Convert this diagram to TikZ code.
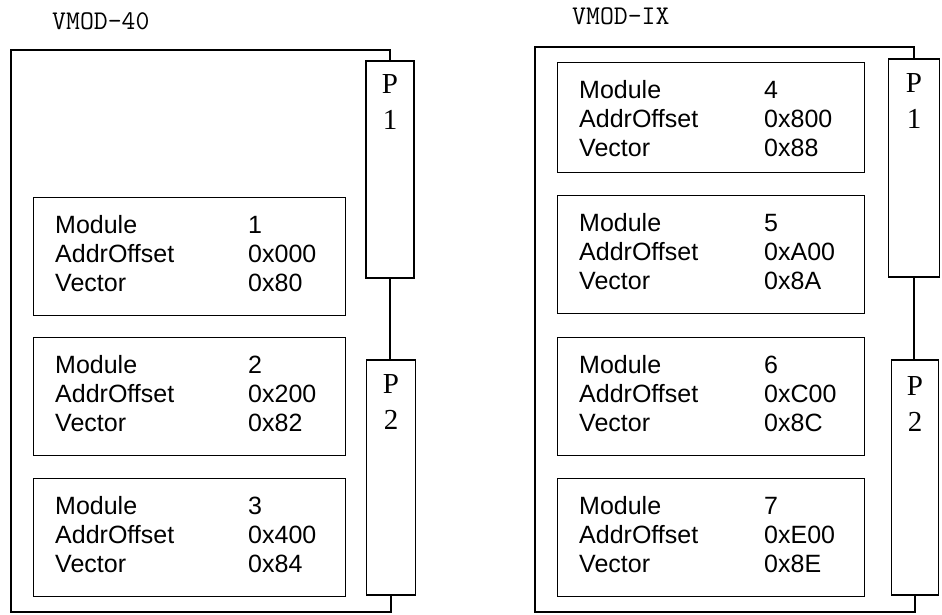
\documentclass[tikz,border=0pt]{standalone}
\usepackage{fontspec}
\setmainfont{Liberation Sans}
\newfontfamily\connfont{Liberation Serif}
\usetikzlibrary{calc}
\tikzset{
  wire/.style={line width=1.3pt, line join=miter},
  modbox/.style={draw, line width=1.3pt, rectangle, inner sep=0pt, minimum width=#1, minimum height=118pt},
  modbox/.default=312pt,
  conn/.style={draw, line width=1.3pt, rectangle, inner sep=0pt, fill=white},
  lbl/.style={inner sep=0pt, font=\fontsize{25}{28}\selectfont},
  plbl/.style={inner sep=0pt, align=center, font=\connfont\fontsize{29}{36}\selectfont},
  ttl/.style={inner sep=0pt, font=\ttfamily\fontsize{27}{30}\selectfont},
}
\newcommand\modrows[5]{% box name, value offset, num, addr, vec
  \node[lbl, anchor=base west] (#1m) at ($(#1.north west)+(22,36)$) {Module};
  \node[lbl, anchor=base west] (#1a) at ($(#1.north west)+(22,65)$) {AddrOffset};
  \node[lbl, anchor=base west] (#1v) at ($(#1.north west)+(22,94)$) {Vector};
  \node[lbl, anchor=base west] (#1mn) at ($(#1.north west)+(#2,36)$) {#3};
  \node[lbl, anchor=base west] (#1an) at ($(#1.north west)+(#2,65)$) {#4};
  \node[lbl, anchor=base west] (#1vn) at ($(#1.north west)+(#2,94)$) {#5};
}
\begin{document}
\begin{tikzpicture}[x=1pt,y=-1pt]
\useasboundingbox (0,0) rectangle (942,614);

% ---------- left board VMOD-40 ----------
\node[ttl, anchor=west] (t1) at (52,21) {VMOD-40};
\node[conn, minimum width=48pt, minimum height=217pt] (P1L) at (390,169.5) {};
\node[conn, minimum width=49pt, minimum height=235pt] (P2L) at (391,477.5) {};
\coordinate (L-tl) at (11,50);
\coordinate (L-bl) at (11,612);
\draw[wire] (P1L.north) |- (L-tl) -- (L-bl) -| (P2L.south);
\draw[wire] (P1L.south) -- (P1L.south |- P2L.north);
\node[plbl, anchor=north] (P1Lt) at ($(P1L.north)+(0,14)$) {P\\1};
\node[plbl, anchor=north] (P2Lt) at ($(P2L.north)+(0,15)$) {P\\2};

\node[modbox, anchor=north west] (m1) at (33,197) {};
\node[modbox, anchor=north west] (m2) at (33,337) {};
\node[modbox, anchor=north west] (m3) at (33,478) {};
\modrows{m1}{215}{1}{0x000}{0x80}
\modrows{m2}{215}{2}{0x200}{0x82}
\modrows{m3}{215}{3}{0x400}{0x84}

% ---------- right board VMOD-IX ----------
\node[ttl, anchor=west] (t2) at (572,16) {VMOD-IX};
\node[conn, minimum width=51pt, minimum height=218pt] (P1R) at (914,168) {};
\node[conn, minimum width=47pt, minimum height=235pt] (P2R) at (915,477.5) {};
\coordinate (R-tl) at (535,47);
\coordinate (R-bl) at (535,612);
\draw[wire] (P1R.north) |- (R-tl) -- (R-bl) -| (P2R.south);
\draw[wire] (P1R.south) -- (P1R.south |- P2R.north);
\node[plbl, anchor=north] (P1Rt) at ($(P1R.north)+(0,15)$) {P\\1};
\node[plbl, anchor=north] (P2Rt) at ($(P2R.north)+(0,17)$) {P\\2};

\node[modbox=307pt, anchor=north west, minimum height=110pt] (m4) at (557,62) {};
\node[modbox=307pt, anchor=north west] (m5) at (557,195) {};
\node[modbox=307pt, anchor=north west] (m6) at (557,337) {};
\node[modbox=307pt, anchor=north west] (m7) at (557,478) {};
\modrows{m4}{207}{4}{0x800}{0x88}
\modrows{m5}{207}{5}{0xA00}{0x8A}
\modrows{m6}{207}{6}{0xC00}{0x8C}
\modrows{m7}{207}{7}{0xE00}{0x8E}
\end{tikzpicture}
\end{document}
